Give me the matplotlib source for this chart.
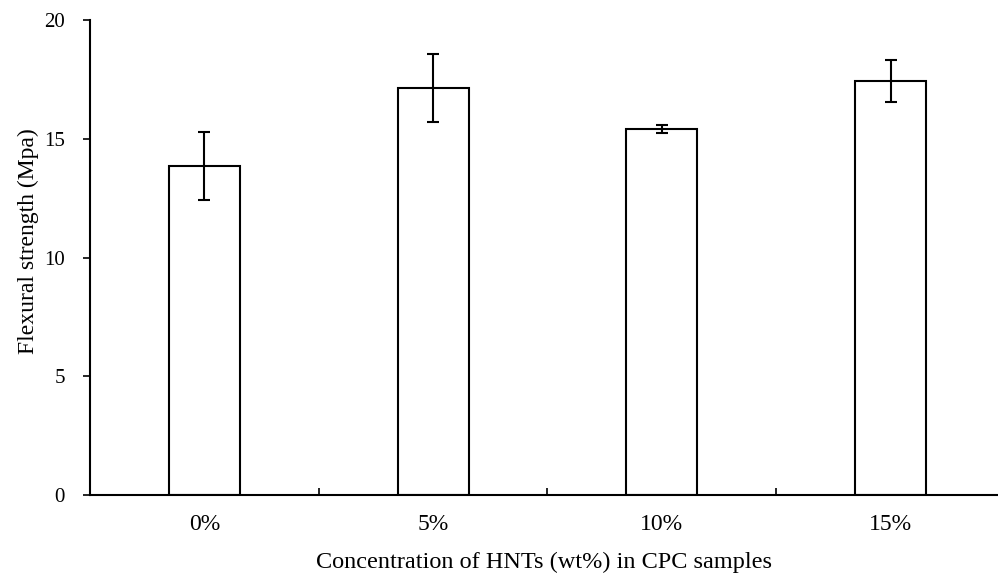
import matplotlib
matplotlib.use('Agg')
import matplotlib.pyplot as plt
import numpy as np

# data
labels = ['0%', '5%', '10%', '15%']
strength = [13.85, 17.15, 15.41, 17.43]
errors = [1.43, 1.43, 0.15, 0.87]

plt.rcParams['font.family'] = ['Liberation Serif', 'DejaVu Serif']

fig = plt.figure(figsize=(9.98, 5.77), dpi=100)
ax = fig.add_axes([0.0902, 0.1421, 0.9098, 0.8232])

x = np.arange(len(labels))
ax.bar(x, strength, width=0.31, color='white', edgecolor='black', linewidth=1.5, zorder=2)
ax.errorbar(x, strength, yerr=errors, fmt='none', ecolor='black', elinewidth=1.5,
            capsize=4, capthick=1.5, zorder=3)

ax.set_xlim(-0.5, 3.47)
ax.set_ylim(0, 20)
ax.set_yticks([0, 5, 10, 15, 20])

# category labels at centres, separator ticks between categories
ax.set_xticks(x)
ax.set_xticklabels(labels, fontsize=17)
ax.set_xticks([0.5, 1.5, 2.5], minor=True)
ax.tick_params(axis='x', which='major', length=0, pad=14)
ax.tick_params(axis='x', which='minor', direction='in', length=5, width=1.2)
ax.tick_params(axis='y', direction='out', length=5, width=1.2, pad=13, labelsize=15)

for side in ['top', 'right']:
    ax.spines[side].set_visible(False)
ax.spines['left'].set_linewidth(1.5)
ax.spines['bottom'].set_linewidth(1.5)

ax.set_ylabel('Flexural strength (Mpa)', fontsize=17)
ax.yaxis.set_label_coords(-0.056, 0.535)
ax.set_xlabel('Concentration of HNTs (wt%) in CPC samples', fontsize=17.5, labelpad=12)

fig.savefig('out.png', dpi=100)
